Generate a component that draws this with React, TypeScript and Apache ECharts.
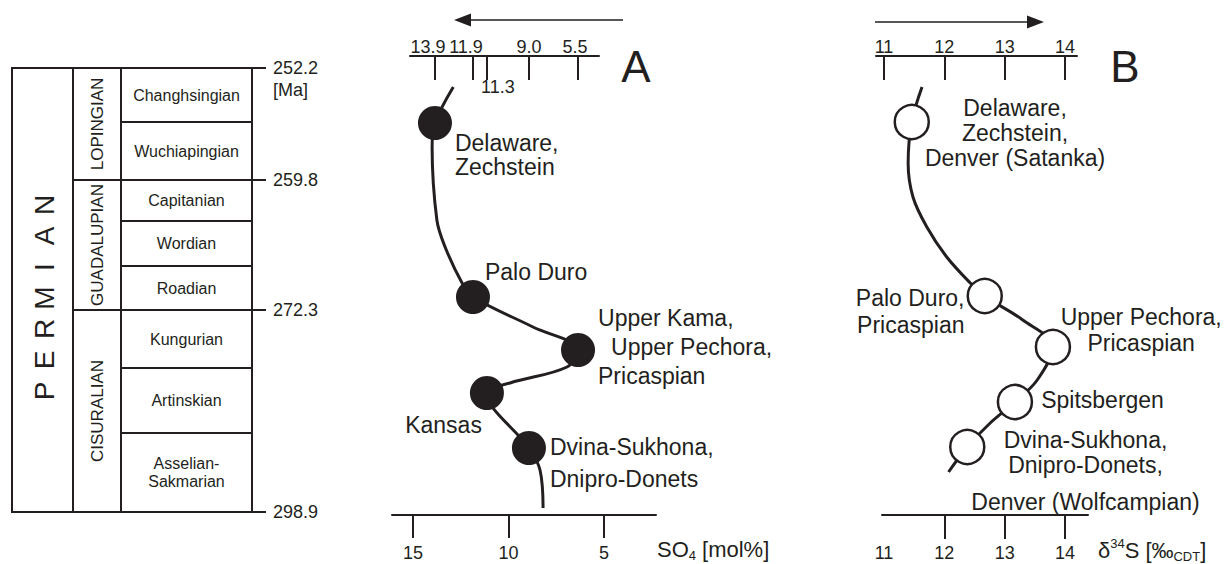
import React, { useEffect, useRef } from 'react';
import * as echarts from 'echarts';

const FONT = '"Liberation Sans", Arial, Helvetica, sans-serif';
const INK = '#231f20';

// ---- Stratigraphic column (schematic depth below the top of the Permian) ----
const stageNames = ['Changhsingian', 'Wuchiapingian', 'Capitanian', 'Wordian', 'Roadian', 'Kungurian', 'Artinskian', 'Asselian-\nSakmarian'];
const stageBounds = [0, 54, 112, 153, 198, 242, 300, 365, 444];
const epochNames = ['LOPINGIAN', 'GUADALUPIAN', 'CISURALIAN'];
const epochBounds = [0, 112, 242, 444];
const systemName = 'PERMIAN';
const ageLabels = ['252.2', '259.8', '272.3', '298.9'];
const ageDepths = [0, 112, 242, 444];
const ageUnit = '[Ma]';

// ---- Panel A: SO4 ----
const so4Sites = ['Delaware,\nZechstein', 'Palo Duro', 'Upper Kama,\nUpper Pechora,\nPricaspian', 'Kansas', 'Dvina-Sukhona,\nDnipro-Donets'];
const so4Values = [13.85, 11.86, 6.36, 11.13, 8.93];
const so4Depths = [55, 229, 282, 325, 380];
const so4TopLabels = ['13.9', '11.9', '5.5', '11.3', '9.0'];
const so4CurveValues = [12.89, 13.85, 14.0, 13.75, 13.32, 12.43, 11.86, 8.72, 6.36, 6.94, 9.92, 11.13, 8.93, 8.35, 8.19];
const so4CurveDepths = [19, 55, 79, 152, 179, 215, 229, 259, 282, 299, 315, 325, 380, 402, 440];
const so4Ticks = [15, 10, 5];

// ---- Panel B: d34S ----
const d34Sites = ['Delaware,\nZechstein,\nDenver (Satanka)', 'Palo Duro,\nPricaspian', 'Upper Pechora,\nPricaspian', 'Spitsbergen', 'Dvina-Sukhona,\nDnipro-Donets,\nDenver (Wolfcampian)'];
const d34Values = [11.46, 12.67, 13.8, 13.17, 12.38];
const d34Depths = [54, 228, 279, 334, 379];
const d34CurveValues = [11.63, 11.46, 11.4, 11.48, 11.71, 12.04, 12.43, 12.67, 13.3, 13.8, 13.54, 13.17, 12.76, 12.38, 12.07];
const d34CurveDepths = [19, 54, 95, 129, 159, 189, 215, 228, 252, 279, 312, 334, 355, 379, 404];
const d34TopTicks = [11, 12, 13, 14];
const d34BottomTicks = [12, 13, 14];
const d34BottomLabels = [11, 12, 13, 14];

// ---- layout / styles ----
const Y_MIN = -12;
const Y_MAX = 447;
const PLOT_TOP = 56;
const PLOT_H = 459;
const COL = { sysL: 0, sysR: 61, epL: 61, epR: 109, stL: 109, stR: 240, tickR: 254, ageX: 261 };

const so4LabelLayout: any[] = [
  { position: 'right', align: 'left', offset: [-2, 32], lh: 24 },
  { position: 'right', align: 'left', offset: [-10, -25], lh: 24 },
  { position: 'right', align: 'left', offset: [-2, -3], lh: 29, keys: ['a', 'ind', 'a'] },
  { position: 'left', align: 'right', offset: [17, 32], lh: 24 },
  { position: 'right', align: 'left', offset: [-1, 15], lh: 32 },
];
const so4TopLabelShift = [-7, -7, -3, 11, 0];
const so4TopInside = [false, false, false, true, false];

const d34LabelLayout: any[] = [
  { position: 'right', align: 'center', offset: [80, 11], lh: 25 },
  { position: 'left', align: 'right', offset: [3, 15.5], lh: 27 },
  { position: 'right', align: 'center', offset: [65, -17], lh: 26 },
  { position: 'right', align: 'left', offset: [3, -2], lh: 24 },
  { position: 'right', align: 'center', offset: [95, 30], lh: 25, gapLh: 49, keys: ['a', 'a', 'gap'] },
];

function siteLabel(text: string, lay: any) {
  const keys: string[] = lay.keys || [];
  const formatted = text.split('\n').map((line, i) => `{${keys[i] || 'a'}|${line}}`).join('\n');
  const base = { fontSize: 23, fontFamily: FONT, color: INK };
  return {
    show: true,
    position: lay.position,
    offset: lay.offset,
    align: lay.align,
    verticalAlign: 'middle',
    formatter: () => formatted,
    rich: {
      a: { ...base, lineHeight: lay.lh },
      ind: { ...base, lineHeight: lay.lh, padding: [0, 0, 0, 13] },
      gap: { ...base, lineHeight: lay.gapLh || 54 },
    },
  };
}

function nearestIndex(arr: number[], v: number) {
  let best = 0;
  for (let i = 1; i < arr.length; i++) if (Math.abs(arr[i] - v) < Math.abs(arr[best] - v)) best = i;
  return best;
}

const lineStyle = { color: INK, width: 2 };
const tickFont = { fontSize: 18, fontFamily: FONT, color: INK };

function yAxis(gridIndex: number) {
  return { type: 'value', gridIndex, min: Y_MIN, max: Y_MAX, inverse: true, show: false };
}

function buildOption(): any {
  const topRich: any = {};
  so4TopLabelShift.forEach((s, i) => {
    topRich['t' + i] = { ...tickFont, padding: s < 0 ? [0, -2 * s, 0, 0] : [0, 0, 0, 2 * s] };
  });

  const grids = [
    { left: 12, top: PLOT_TOP, width: 255, height: PLOT_H },
    { left: 392, top: PLOT_TOP, width: 264, height: PLOT_H },
    { left: 410, top: PLOT_TOP, width: 189, height: PLOT_H },
    { left: 882, top: PLOT_TOP, width: 206, height: PLOT_H },
    { left: 876, top: PLOT_TOP, width: 201, height: PLOT_H },
  ].map((g) => ({ ...g, containLabel: false, outerBoundsMode: 'none' }));

  const xAxes = [
    { type: 'value', gridIndex: 0, min: 0, max: 255, show: false },
    {
      type: 'value', gridIndex: 1, position: 'bottom', inverse: true, min: 2.2775, max: 16.0995,
      axisLine: { show: true, onZero: false, lineStyle },
      axisTick: { show: true, inside: false, length: 23, lineStyle, customValues: so4Ticks },
      axisLabel: { show: true, margin: 29, customValues: so4Ticks, ...tickFont },
      splitLine: { show: false },
    },
    {
      type: 'value', gridIndex: 2, position: 'top', inverse: true, min: 5.262, max: 15.157,
      axisLine: { show: true, onZero: false, lineStyle },
      axisTick: { show: true, inside: true, length: 24, lineStyle, customValues: so4Values },
      axisLabel: {
        show: true, margin: 0, ...tickFont,
        customValues: so4Values.filter((_, i) => !so4TopInside[i]),
        formatter: (v: number) => { const i = nearestIndex(so4Values, v); return `{t${i}|${so4TopLabels[i]}}`; },
        rich: topRich,
      },
      splitLine: { show: false },
    },
    {
      type: 'value', gridIndex: 2, position: 'top', inverse: true, min: 5.262, max: 15.157,
      axisLine: { show: false, onZero: false },
      axisTick: { show: false },
      axisLabel: {
        show: true, inside: true, margin: 22, ...tickFont,
        customValues: so4Values.filter((_, i) => so4TopInside[i]),
        formatter: (v: number) => { const i = nearestIndex(so4Values, v); return `{t${i}|${so4TopLabels[i]}}`; },
        rich: topRich,
      },
      splitLine: { show: false },
    },
    {
      type: 'value', gridIndex: 3, position: 'bottom', min: 10.9668, max: 14.3814,
      axisLine: { show: true, onZero: false, lineStyle },
      axisTick: { show: true, inside: false, length: 24, lineStyle, customValues: d34BottomTicks },
      axisLabel: { show: true, margin: 29, customValues: d34BottomLabels, ...tickFont },
      splitLine: { show: false },
    },
    {
      type: 'value', gridIndex: 4, position: 'top', min: 10.8674, max: 14.199,
      axisLine: { show: true, onZero: false, lineStyle },
      axisTick: { show: true, inside: true, length: 24, lineStyle, customValues: d34TopTicks },
      axisLabel: { show: true, margin: 0, customValues: d34TopTicks, ...tickFont },
      splitLine: { show: false },
    },
  ];

  const yAxes = [yAxis(0), yAxis(1), yAxis(2), yAxis(3), yAxis(4)];

  const cellStyle = { fill: 'none', stroke: INK, lineWidth: 2 };

  const stageSeries = {
    type: 'custom', xAxisIndex: 0, yAxisIndex: 0, silent: true,
    data: stageNames.map((_, i) => [stageBounds[i], stageBounds[i + 1]]),
    renderItem: (params: any, api: any) => {
      const i = params.dataIndex;
      const a = api.coord([COL.stL, api.value(0)]);
      const b = api.coord([COL.stR, api.value(1)]);
      return {
        type: 'group',
        children: [
          { type: 'rect', shape: { x: a[0], y: a[1], width: b[0] - a[0], height: b[1] - a[1] }, style: cellStyle },
          {
            type: 'text', x: (a[0] + b[0]) / 2, y: (a[1] + b[1]) / 2,
            style: { text: stageNames[i], fontSize: 16, fontFamily: FONT, fill: INK, align: 'center', verticalAlign: 'middle', lineHeight: 18 },
          },
        ],
      };
    },
  };

  const epochSeries = {
    type: 'custom', xAxisIndex: 0, yAxisIndex: 0, silent: true,
    data: epochNames.map((_, i) => [epochBounds[i], epochBounds[i + 1]]),
    renderItem: (params: any, api: any) => {
      const i = params.dataIndex;
      const a = api.coord([COL.epL, api.value(0)]);
      const b = api.coord([COL.epR, api.value(1)]);
      return {
        type: 'group',
        children: [
          { type: 'rect', shape: { x: a[0], y: a[1], width: b[0] - a[0], height: b[1] - a[1] }, style: cellStyle },
          {
            type: 'text', x: (a[0] + b[0]) / 2, y: (a[1] + b[1]) / 2, rotation: Math.PI / 2,
            style: { text: epochNames[i], fontSize: 17, fontFamily: FONT, fill: INK, align: 'center', verticalAlign: 'middle' },
          },
        ],
      };
    },
  };

  const systemSeries = {
    type: 'custom', xAxisIndex: 0, yAxisIndex: 0, silent: true,
    data: [[epochBounds[0], epochBounds[epochBounds.length - 1]]],
    renderItem: (params: any, api: any) => {
      const a = api.coord([COL.sysL, api.value(0)]);
      const b = api.coord([COL.sysR, api.value(1)]);
      const cx = (a[0] + b[0]) / 2 + 2;
      const cy = (a[1] + b[1]) / 2 + 8;
      const letters = systemName.split('');
      const mid = (letters.length - 1) / 2;
      return {
        type: 'group',
        children: [
          { type: 'rect', shape: { x: a[0], y: a[1], width: b[0] - a[0], height: b[1] - a[1] }, style: cellStyle },
          ...letters.map((ch, i) => ({
            type: 'text', x: cx, y: cy + (mid - i) * 31, rotation: Math.PI / 2,
            style: { text: ch, fontSize: 28, fontFamily: FONT, fill: INK, align: 'center', verticalAlign: 'middle' },
          })),
        ],
      };
    },
  };

  const ageSeries = {
    type: 'custom', xAxisIndex: 0, yAxisIndex: 0, silent: true,
    data: ageDepths.map((d) => [d, d]),
    renderItem: (params: any, api: any) => {
      const i = params.dataIndex;
      const a = api.coord([COL.stR, api.value(0)]);
      const b = api.coord([COL.tickR, api.value(0)]);
      const t = api.coord([COL.ageX, api.value(0)]);
      const children: any[] = [
        { type: 'line', shape: { x1: a[0], y1: a[1], x2: b[0], y2: b[1] }, style: { stroke: INK, lineWidth: 2 } },
        { type: 'text', x: t[0], y: t[1], style: { text: ageLabels[i], fontSize: 18, fontFamily: FONT, fill: INK, align: 'left', verticalAlign: 'middle' } },
      ];
      if (i === 0) {
        children.push({ type: 'text', x: t[0], y: t[1] + 22, style: { text: ageUnit, fontSize: 18, fontFamily: FONT, fill: INK, align: 'left', verticalAlign: 'middle' } });
      }
      return { type: 'group', children };
    },
  };

  const so4Line = {
    type: 'line', xAxisIndex: 1, yAxisIndex: 1, silent: true, z: 3,
    data: so4CurveValues.map((v, i) => [v, so4CurveDepths[i]]),
    smooth: 0.35, symbol: 'none', lineStyle: { color: INK, width: 3 },
  };
  const so4Points = {
    type: 'scatter', xAxisIndex: 1, yAxisIndex: 1, silent: true, z: 5,
    symbol: 'circle', symbolSize: 34, itemStyle: { color: INK, opacity: 1 },
    data: so4Values.map((v, i) => ({ value: [v, so4Depths[i]], label: siteLabel(so4Sites[i], so4LabelLayout[i]) })),
  };
  const d34Line = {
    type: 'line', xAxisIndex: 4, yAxisIndex: 3, silent: true, z: 3,
    data: d34CurveValues.map((v, i) => [v, d34CurveDepths[i]]),
    smooth: 0.35, symbol: 'none', lineStyle: { color: INK, width: 3 },
  };
  const d34Points = {
    type: 'scatter', xAxisIndex: 4, yAxisIndex: 3, silent: true, z: 5,
    symbol: 'circle', symbolSize: 34, itemStyle: { color: '#ffffff', borderColor: INK, borderWidth: 2.5, opacity: 1 },
    data: d34Values.map((v, i) => ({ value: [v, d34Depths[i]], label: siteLabel(d34Sites[i], d34LabelLayout[i]) })),
  };

  const m = { fontSize: 22, fontFamily: FONT, color: INK, lineHeight: 26 };
  const small = { fontSize: 13, fontFamily: FONT, color: INK, lineHeight: 8 };

  const graphic = [
    { type: 'line', shape: { x1: 623, y1: 20, x2: 466, y2: 20 }, style: { stroke: INK, lineWidth: 1.5 } },
    { type: 'polygon', shape: { points: [[454, 20], [471, 13.5], [471, 26.5]] }, style: { fill: INK } },
    { type: 'line', shape: { x1: 875, y1: 22, x2: 1032, y2: 22 }, style: { stroke: INK, lineWidth: 1.5 } },
    { type: 'polygon', shape: { points: [[1044, 22], [1027, 15.5], [1027, 28.5]] }, style: { fill: INK } },
    { type: 'text', x: 636, y: 66, style: { text: 'A', fontSize: 44, fontFamily: FONT, fill: INK, align: 'center', verticalAlign: 'middle' } },
    { type: 'text', x: 1125, y: 66, style: { text: 'B', fontSize: 44, fontFamily: FONT, fill: INK, align: 'center', verticalAlign: 'middle' } },
    {
      type: 'text', x: 657, y: 549,
      style: {
        text: '{m|SO}{s|4}{g|[mol%]}', align: 'left', verticalAlign: 'middle', fill: INK,
        rich: { m, g: { ...m, padding: [0, 0, 0, 6] }, s: { ...small, verticalAlign: 'bottom' } },
      },
    },
    {
      type: 'text', x: 1098, y: 550,
      style: {
        text: '{m|δ}{p|34}{m|S}{g|[‰}{s|CDT}{m|]}', align: 'left', verticalAlign: 'middle', fill: INK,
        rich: { m, g: { ...m, padding: [0, 0, 0, 6] }, p: { ...small, verticalAlign: 'top' }, s: { ...small, verticalAlign: 'bottom' } },
      },
    },
  ];

  return {
    animation: false,
    backgroundColor: '#ffffff',
    textStyle: { fontFamily: FONT, color: INK },
    grid: grids,
    xAxis: xAxes,
    yAxis: yAxes,
    series: [stageSeries, epochSeries, systemSeries, ageSeries, so4Line, so4Points, d34Line, d34Points],
    graphic,
  };
}

export default function App() {
  const ref = useRef<HTMLDivElement>(null);
  useEffect(() => {
    if (!ref.current) return;
    const chart = echarts.init(ref.current, null, { renderer: 'svg' });
    chart.setOption(buildOption());
    return () => chart.dispose();
  }, []);
  return (
    <div
      ref={ref}
      style={{ position: 'absolute', left: 0, top: 0, width: 1232, height: 564, background: '#ffffff' }}
    />
  );
}
